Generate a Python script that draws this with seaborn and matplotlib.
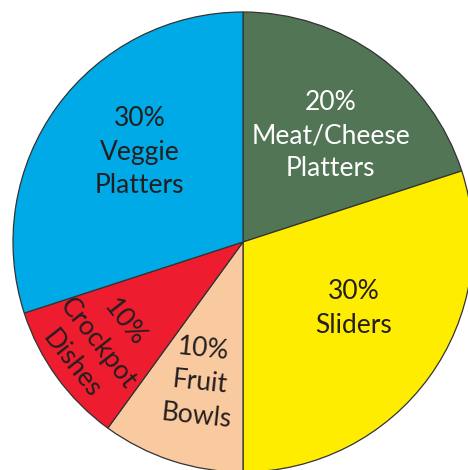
import numpy as np
import matplotlib
matplotlib.use("Agg")
import matplotlib.pyplot as plt
import seaborn as sns

sns.set_theme(style="white")
plt.rcParams['font.family'] = ['Lato', 'DejaVu Sans']

categories = ["Meat/Cheese\nPlatters", "Sliders", "Fruit\nBowls", "Crockpot\nDishes", "Veggie\nPlatters"]
values = [20, 30, 10, 10, 30]
colors = ["#527556", "#FFED00", "#F9C9A0", "#ED1C2E", "#00AAE7"]
text_colors = ["white", "#231F20", "#231F20", "#231F20", "#231F20"]
label_radius = [0.60, 0.56, 0.64, 0.77, 0.595]
label_angle_shift = [-3.5, 5, 1, -1, -5]
label_rotation = [0, 0, -6, -52, 0]

W, H = 468, 470
fig = plt.figure(figsize=(W / 100, H / 100), dpi=100)
cx, cy, R = 243, 242, 230
ax = fig.add_axes([(cx - R) / W, (H - cy - R) / H, 2 * R / W, 2 * R / H])

wedges, _ = ax.pie(values, colors=colors, startangle=90, counterclock=False,
                   wedgeprops=dict(edgecolor="#333333", linewidth=0.9),
                   radius=1)
for w in wedges:
    w.set_clip_on(False)
ax.set_xlim(-1, 1)
ax.set_ylim(-1, 1)
ax.set_aspect("auto")
ax.axis("off")

for w, cat, v, tc, lr, sh, rot in zip(wedges, categories, values, text_colors,
                                      label_radius, label_angle_shift, label_rotation):
    mid = np.deg2rad((w.theta1 + w.theta2) / 2 + sh)
    ax.text(lr * np.cos(mid), lr * np.sin(mid), f"{v}%\n{cat}", ha="center", va="center",
            color=tc, fontsize=19, fontweight="normal", rotation=rot, rotation_mode="anchor",
            linespacing=1.42, multialignment="center")

fig.savefig("out.png", dpi=100)
